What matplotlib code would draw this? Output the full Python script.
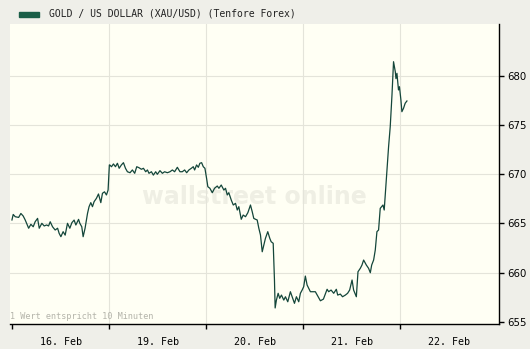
import matplotlib.pyplot as plt
import numpy as np

# day labels (trading days, weekend skipped)
days = ["16. Feb", "19. Feb", "20. Feb", "21. Feb", "22. Feb"]

# time in trading days from 16 Feb 00:00, price in USD
t = [0.000, 0.013, 0.034, 0.069, 0.092, 0.116, 0.137, 0.172, 0.195, 0.219,
     0.239, 0.264, 0.281, 0.308, 0.332, 0.357, 0.377, 0.394, 0.418, 0.445,
     0.470, 0.486, 0.504, 0.527, 0.548, 0.572, 0.596, 0.617, 0.640, 0.658,
     0.686, 0.699, 0.719, 0.733, 0.753, 0.778, 0.794, 0.812, 0.829, 0.846,
     0.870, 0.891, 0.915, 0.932, 0.953, 0.973, 0.990,
     1.003, 1.007, 1.025, 1.045, 1.066, 1.086, 1.104, 1.127, 1.148, 1.169,
     1.189, 1.216, 1.240, 1.264, 1.285, 1.308, 1.333, 1.354, 1.377, 1.395,
     1.411, 1.436, 1.456, 1.480, 1.497, 1.524, 1.549, 1.572, 1.600, 1.627,
     1.652, 1.675, 1.703, 1.730, 1.754, 1.778, 1.799, 1.822, 1.847, 1.867,
     1.881, 1.901, 1.919, 1.935, 1.953, 1.970, 1.987, 2.004,
     2.017, 2.038, 2.063, 2.086, 2.114, 2.131, 2.155, 2.182, 2.199, 2.217,
     2.233, 2.258, 2.279, 2.302, 2.320, 2.336, 2.361, 2.381, 2.405, 2.429,
     2.456, 2.474, 2.490, 2.508, 2.525, 2.542, 2.559, 2.577, 2.593, 2.610,
     2.634, 2.655, 2.669, 2.690, 2.703, 2.710, 2.723, 2.741, 2.757, 2.775,
     2.799, 2.816, 2.840, 2.867, 2.885, 2.909, 2.929, 2.953, 2.970, 2.988,
     3.004, 3.021, 3.039, 3.056,
     3.073, 3.124, 3.176, 3.207, 3.245, 3.261, 3.286, 3.313, 3.340, 3.354,
     3.381, 3.404, 3.433, 3.456, 3.477, 3.502, 3.518, 3.546, 3.563, 3.587,
     3.604, 3.621, 3.649, 3.672, 3.690, 3.704, 3.724, 3.741, 3.758, 3.775,
     3.792, 3.820, 3.833, 3.854, 3.878, 3.895, 3.913, 3.929, 3.947, 3.954,
     3.964, 3.980, 3.990, 4.005, 4.015, 4.032, 4.049, 4.067]

price = [665.34, 665.90, 665.67, 665.60, 666.00, 665.74, 665.33, 664.50, 664.90, 664.65,
         665.16, 665.50, 664.50, 665.00, 664.73, 664.83, 664.73, 665.16, 664.65, 664.32,
         664.50, 663.98, 663.64, 664.15, 663.80, 665.00, 664.50, 665.06, 665.33, 664.83,
         665.40, 665.00, 664.65, 663.64, 664.50, 666.00, 666.69, 667.10, 666.69, 667.20,
         667.54, 667.98, 667.10, 668.05, 668.20, 667.88, 668.38,
         670.93, 670.93, 670.75, 671.03, 670.75, 671.10, 670.59, 670.93, 671.16, 670.59,
         670.24, 670.14, 670.42, 670.08, 670.75, 670.65, 670.49, 670.59, 670.24, 670.42,
         670.08, 670.24, 669.90, 670.24, 669.98, 670.35, 670.08, 670.24, 670.14, 670.24,
         670.42, 670.24, 670.69, 670.24, 670.24, 670.42, 670.14, 670.42, 670.59, 670.75,
         670.42, 670.93, 670.69, 671.10, 671.16, 670.75, 670.59, 669.57,
         668.72, 668.56, 668.11, 668.56, 668.79, 668.56, 668.89, 668.38, 668.56, 667.88,
         668.11, 667.37, 666.86, 667.03, 666.35, 666.69, 665.41, 665.84, 665.67, 666.08,
         666.86, 666.18, 665.50, 665.41, 665.34, 664.50, 663.81, 662.11, 662.79, 663.47,
         664.15, 663.47, 663.13, 662.97, 659.24, 656.40, 657.20, 657.89, 657.38, 657.71,
         657.20, 657.54, 657.03, 658.05, 657.54, 656.87, 657.54, 657.03, 657.89, 658.22,
         658.56, 659.64, 658.73, 658.39,
         658.05, 658.05, 657.13, 657.30, 658.30, 658.05, 658.22, 657.89, 658.30, 657.71,
         657.81, 657.54, 657.71, 657.89, 658.22, 659.24, 658.22, 657.54, 660.08, 660.43,
         660.76, 661.27, 660.76, 660.43, 659.98, 660.76, 661.27, 662.29, 664.15, 664.32,
         666.52, 666.86, 666.35, 669.40, 672.78, 674.82, 678.04, 681.42, 680.41, 679.70,
         680.24, 678.55, 678.88, 677.53, 676.34, 676.69, 677.20, 677.43]

yticks = [655, 660, 665, 670, 675, 680]

fig = plt.figure(figsize=(5.3, 3.49), dpi=100, facecolor="#efefe9")
ax = fig.add_axes([10 / 530, 24.7 / 349, 489.3 / 530, 300.3 / 349])
ax.set_facecolor("#fffff4")

# watermark
ax.text(0.5, 0.425, "wallstreet online", transform=ax.transAxes, ha="center", va="center",
        fontsize=17, fontweight="bold", color="#efefe4", family="DejaVu Sans", zorder=0)

ax.plot(t, price, color="#14463a", linewidth=0.9, zorder=3)

ax.set_xlim(-0.02, 5.018)
ax.set_ylim(654.74, 685.25)

# grid
for x in range(1, 5):
    ax.axvline(x, color="#e4e4da", linewidth=0.8, zorder=1)
for y in yticks[1:]:
    ax.axhline(y, color="#e4e4da", linewidth=0.8, zorder=1)

# spines
for s in ["top", "left"]:
    ax.spines[s].set_visible(False)
ax.spines["bottom"].set_linewidth(1.0)
ax.spines["right"].set_linewidth(1.0)

# x axis: ticks at day boundaries, labels in the middle of days
ax.set_xticks(range(0, 5))
ax.set_xticklabels([])
ax.set_xticks(np.arange(len(days)) + 0.5, minor=True)
ax.set_xticklabels(days, minor=True, family="DejaVu Sans Mono", fontsize=7.2)
ax.tick_params(axis="x", which="major", direction="out", length=3.5, width=1)
ax.tick_params(axis="x", which="minor", length=0, pad=9)

# y axis on the right
ax.yaxis.tick_right()
ax.set_yticks(yticks)
ax.set_yticklabels([str(v) for v in yticks], fontsize=7.3)
ax.tick_params(axis="y", direction="out", length=3.5, width=1, pad=2)

ax.text(0.0, 0.012, "1 Wert entspricht 10 Minuten", transform=ax.transAxes,
        family="DejaVu Sans Mono", fontsize=6.1, color="#b4b4aa", va="bottom", ha="left")

# legend-like header
fig.patches.append(plt.Rectangle((19 / 530, 1 - 16.7 / 349), 20 / 530, 5 / 349,
                                 transform=fig.transFigure, color="#1a5e47"))
fig.text(49 / 530, 1 - 14 / 349, "GOLD / US DOLLAR (XAU/USD) (Tenfore Forex)",
         family="DejaVu Sans Mono", fontsize=7, va="center", ha="left", color="#222222")

plt.savefig("out.png", dpi=100, facecolor=fig.get_facecolor())
